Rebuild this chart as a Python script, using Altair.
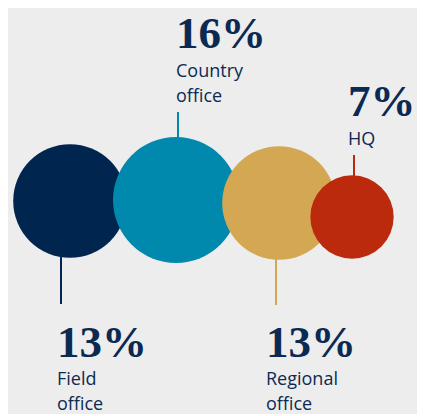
import altair as alt
import pandas as pd

# ---- data ----
categories = ["Field office", "Country office", "Regional office", "HQ"]
values = [13, 16, 13, 7]
label_lines = ["Field\noffice", "Country\noffice", "Regional\noffice", "HQ"]

# ---- styles ----
palette = ["#00264f", "#0089ad", "#d4a853", "#bc2a0d"]
text_color = "#0b2a52"
bg = "#ededed"

# ---- layout (page pixel coordinates) ----
center_x = [70, 176, 279, 352]
center_y = [201, 200, 203, 217]
rule_x = [61, 178, 276, 354]
rule_end_y = [304, 112, 305, 155]
label_x = [57, 176, 266, 348]
pct_y = [357, 48, 357, 116]
name_y = [385, 77, 385, 145]
max_diameter = 126

df = pd.DataFrame({
    "category": categories,
    "value": values,
    "pct": [f"{v}%" for v in values],
    "lines": label_lines,
    "cx": center_x,
    "cy": center_y,
    "rx": rule_x,
    "ry2": rule_end_y,
    "lx": label_x,
    "py": pct_y,
    "ny": name_y,
    "order": list(range(len(categories))),
})

W, H = 409, 400
xs = alt.Scale(domain=[8, 8 + W], range=[0, W])
ys = alt.Scale(domain=[8, 8 + H], range=[0, H])
color = alt.Color("category:N", scale=alt.Scale(domain=categories, range=palette), legend=None)

base = alt.Chart(df)

rules = base.mark_rule(strokeWidth=2).encode(
    x=alt.X("rx:Q", scale=xs, axis=None),
    y=alt.Y("cy:Q", scale=ys, axis=None),
    y2="ry2:Q",
    color=color,
)

circles = base.mark_circle(opacity=1).encode(
    x=alt.X("cx:Q", scale=xs, axis=None),
    y=alt.Y("cy:Q", scale=ys, axis=None),
    size=alt.Size("value:Q", scale=alt.Scale(type="linear", domain=[0, 16], range=[0, max_diameter ** 2]), legend=None),
    color=color,
    order=alt.Order("order:Q"),
)

pct_text = base.mark_text(
    align="left", baseline="alphabetic", font="Liberation Serif", fontWeight="bold",
    fontSize=45, color=text_color,
).encode(
    x=alt.X("lx:Q", scale=xs, axis=None),
    y=alt.Y("py:Q", scale=ys, axis=None),
    text="pct:N",
)

name_text = base.mark_text(
    align="left", baseline="alphabetic", font="Open Sans", fontSize=18,
    lineBreak="\n", lineHeight=25, color=text_color,
).encode(
    x=alt.X("lx:Q", scale=xs, axis=None),
    y=alt.Y("ny:Q", scale=ys, axis=None),
    text="lines:N",
)

chart = alt.layer(rules, circles, pct_text, name_text).properties(
    width=W, height=H, background=bg, padding=0,
).configure_view(stroke=None)

chart.save("out.html", embed_options={"renderer": "svg", "actions": False})
